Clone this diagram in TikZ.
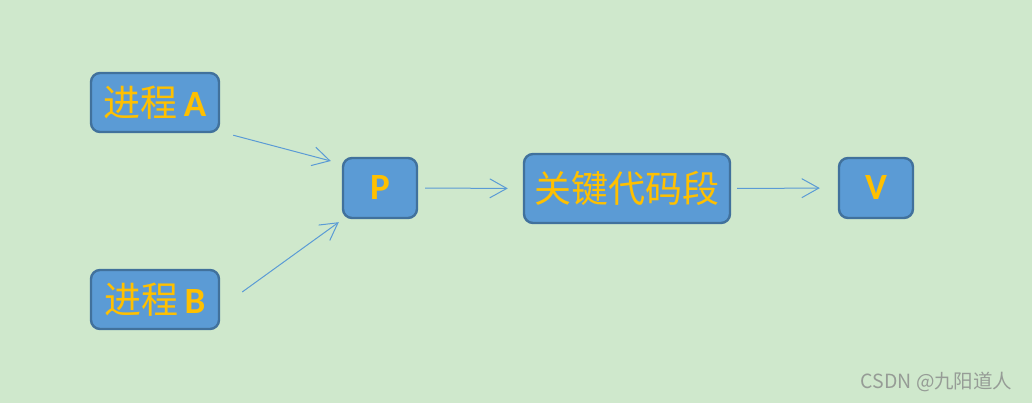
\documentclass[tikz,border=0pt]{standalone}
\usepackage{fontspec}
\usetikzlibrary{arrows.meta,calc}
\newfontfamily\cjk{Noto Sans CJK SC}
\newfontfamily\latb{Carlito}[BoldFont={* Bold}]
\definecolor{bgc}{RGB}{207,232,204}
\definecolor{boxfill}{RGB}{91,155,213}
\definecolor{boxline}{RGB}{65,113,156}
\definecolor{txty}{RGB}{255,192,0}
\definecolor{arrc}{RGB}{91,155,213}
\definecolor{wm}{RGB}{150,156,150}
\tikzset{
  pbox/.style={draw=boxline, fill=boxfill, line width=2.4pt, rounded corners=9pt,
    inner sep=0pt, text=txty, font=\cjk\fontsize{37}{37}\selectfont},
  arr/.style={draw=arrc, line width=1pt, -{Straight Barb[length=17pt,width=19pt,line width=1pt]}}
}
\begin{document}
\begin{tikzpicture}[x=1pt,y=1pt]
\fill[bgc] (0,0) rectangle (1032,-403);
\useasboundingbox (0,0) rectangle (1032,-403);
\node[pbox, minimum width=128pt, minimum height=59pt] (A) at (155,-102.5) {\raisebox{-1.5pt}{进程\,{\latb\bfseries A}}};
\node[pbox, minimum width=128pt, minimum height=59pt] (B) at (155,-299.5) {\raisebox{-1.5pt}{进程\,{\latb\bfseries B}}};
\node[pbox, minimum width=74pt, minimum height=60pt] (P) at (380,-188) {\raisebox{-1.5pt}{\latb\bfseries P}};
\node[pbox, minimum width=206pt, minimum height=69pt] (K) at (627,-188.5) {关键代码段};
\node[pbox, minimum width=74pt, minimum height=60pt] (V) at (876,-188) {\raisebox{-1.5pt}{\latb\bfseries V}};
\draw[arr] ([xshift=13pt,yshift=-2pt]A.south east) -- ([xshift=-11pt,yshift=27pt]P.west);
\draw[arr] ([xshift=22pt,yshift=7.5pt]B.east) -- ([xshift=-3pt,yshift=-3pt]P.south west);
\draw[arr, shorten <=7pt, shorten >=15pt] (P.east) -- (K.west);
\draw[arr, shorten <=6pt, shorten >=18pt] (K.east) -- (V.west);
\node[text=wm, font=\cjk\fontsize{19.5}{19.5}\selectfont, anchor=east] (wmk) at (1016,-382) {CSDN @九阳道人};
\end{tikzpicture}
\end{document}
